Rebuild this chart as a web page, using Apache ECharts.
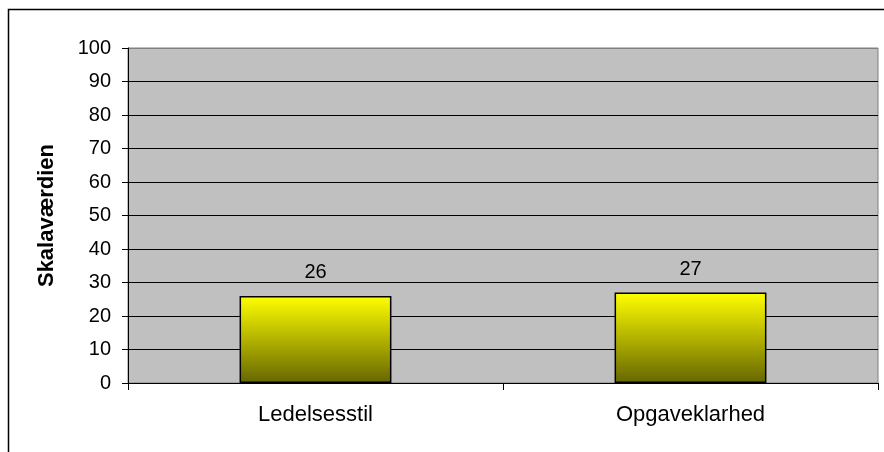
<!DOCTYPE html>
<html>
<head>
<meta charset="utf-8">
<script src="https://cdn.jsdelivr.net/npm/echarts@6/dist/echarts.min.js"></script>
<style>
  html, body { margin: 0; padding: 0; background: #fff; }
  #chart { width: 884px; height: 452px; }
</style>
</head>
<body>
<div id="chart"></div>
<script>
// Scale values per dimension
const categories = ['Ledelsesstil', 'Opgaveklarhed'];
const values = [26, 27];
const yTitle = 'Skalaværdien';
const yMin = 0, yMax = 100, yStep = 10;

const FONT = '"Liberation Sans", Arial, sans-serif';

// Top grid line sits on the gray plot border; the rest are dark
const splitColors = [];
for (let v = yMin; v <= yMax; v += yStep) splitColors.push(v === yMax ? '#808080' : '#000000');

const chart = echarts.init(document.getElementById('chart'), null, { renderer: 'canvas' });
chart.setOption({
  animation: false,
  backgroundColor: '#ffffff',
  graphic: [{
    type: 'rect',
    shape: { x: 8.5, y: 9.5, width: 1000, height: 1000 },
    style: { fill: 'none', stroke: '#000', lineWidth: 1.5 },
    silent: true
  }],
  grid: {
    left: 128, top: 48, right: 6, bottom: 69,
    show: true, backgroundColor: '#C0C0C0', borderColor: '#808080', borderWidth: 1
  },
  xAxis: {
    type: 'category',
    data: categories,
    axisLine: { show: true, lineStyle: { color: '#000', width: 1 } },
    axisTick: { show: true, length: 7, lineStyle: { color: '#000' } },
    axisLabel: { color: '#000', fontFamily: FONT, fontSize: 22, margin: 21 },
    splitLine: { show: false }
  },
  yAxis: {
    type: 'value',
    min: yMin, max: yMax, interval: yStep,
    name: yTitle,
    nameLocation: 'middle',
    nameGap: 70,
    nameRotate: 90,
    nameTextStyle: { color: '#000', fontFamily: FONT, fontSize: 22, fontWeight: 'bold' },
    axisLine: { show: true, lineStyle: { color: '#000', width: 1 } },
    axisTick: { show: true, length: 6, lineStyle: { color: '#000' } },
    axisLabel: { color: '#000', fontFamily: FONT, fontSize: 20, margin: 17 },
    splitLine: { show: true, lineStyle: { color: splitColors, width: 1 } }
  },
  series: [{
    type: 'bar',
    data: values,
    barWidth: '40.5%',
    itemStyle: {
      color: new echarts.graphic.LinearGradient(0, 0, 0, 1, [
        { offset: 0, color: '#FFFF00' },
        { offset: 1, color: '#666600' }
      ]),
      borderColor: '#000',
      borderWidth: 1.5
    },
    label: {
      show: true, position: 'top', distance: 13,
      color: '#000', fontFamily: FONT, fontSize: 20
    }
  }]
});
</script>
</body>
</html>
